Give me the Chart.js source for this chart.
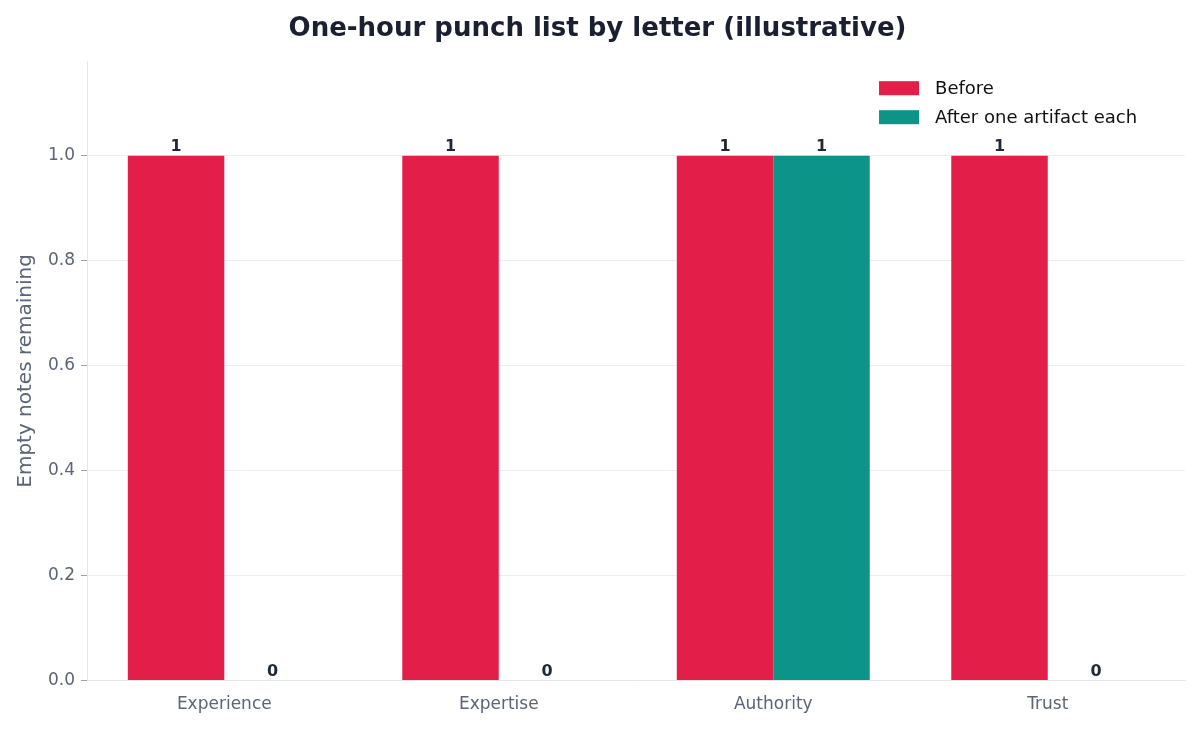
<!DOCTYPE html>
<html><head><meta charset="utf-8">
<script src="https://cdn.jsdelivr.net/npm/chart.js@4"></script>
<style>html,body{margin:0;padding:0;background:#fff}#w{width:1199px;height:731px}</style>
</head><body><div id="w"><canvas id="c"></canvas></div>
<script>
const categories = ["Experience","Expertise","Authority","Trust"];
const beforeValues = [1,1,1,1];
const afterValues = [0,0,1,0];
const seriesLabels = ["Before","After one artifact each"];
const colors = ["#e31e48","#0d9488"];

const labelPlugin = {
  id:'vals',
  afterDatasetsDraw(chart){
    const ctx=chart.ctx;
    ctx.save();
    ctx.font='bold 16px "DejaVu Sans"';
    ctx.fillStyle='#1f2937';
    ctx.textAlign='center';ctx.textBaseline='bottom';
    chart.data.datasets.forEach((ds,i)=>{
      chart.getDatasetMeta(i).data.forEach((bar,j)=>{
        ctx.fillText(String(ds.data[j]), bar.x, bar.y-1);
      });
    });
    // legend
    const a=chart.chartArea;
    ctx.font='18px "DejaVu Sans"';ctx.textAlign='left';ctx.textBaseline='middle';
    chart.data.datasets.forEach((ds,i)=>{
      const y=a.top+27+i*29;
      ctx.fillStyle=ds.backgroundColor;
      ctx.fillRect(792+a.left,y-7,40,14);
      ctx.fillStyle='#111';
      ctx.fillText(ds.label,848+a.left,y+1);
    });
    ctx.restore();
  }
};

new Chart(document.getElementById('c'),{
  type:'bar',
  data:{labels:categories,datasets:[
    {label:seriesLabels[0],data:beforeValues,backgroundColor:colors[0]},
    {label:seriesLabels[1],data:afterValues,backgroundColor:colors[1]}
  ]},
  options:{
    responsive:true,maintainAspectRatio:false,animation:false,
    layout:{padding:{left:10,right:14,top:4,bottom:10}},
    categoryPercentage:0.703,barPercentage:1,
    plugins:{
      legend:{display:false},
      tooltip:{enabled:false},
      title:{display:true,text:'One-hour punch list by letter (illustrative)',color:'#1a2030',
        font:{family:'DejaVu Sans',size:26,weight:'bold'},padding:{top:10,bottom:16}}
    },
    scales:{
      x:{grid:{display:false,drawTicks:true},border:{color:'#e5e7eb'},
        ticks:{color:'#5b6478',font:{family:'DejaVu Sans',size:17},padding:6}},
      y:{min:0,max:1.18,
        afterBuildTicks(s){s.ticks=[0,0.2,0.4,0.6,0.8,1.0].map(v=>({value:v}));},
        ticks:{color:'#5b6478',font:{family:'DejaVu Sans',size:17},callback:v=>v.toFixed(1),padding:6},
        grid:{color:'#eceef1',tickColor:'#9ca3af',tickLength:6},border:{color:'#e5e7eb'},
        title:{display:true,text:'Empty notes remaining',color:'#5b6478',font:{family:'DejaVu Sans',size:20}}}
    }
  },
  plugins:[labelPlugin]
});
</script></body></html>
